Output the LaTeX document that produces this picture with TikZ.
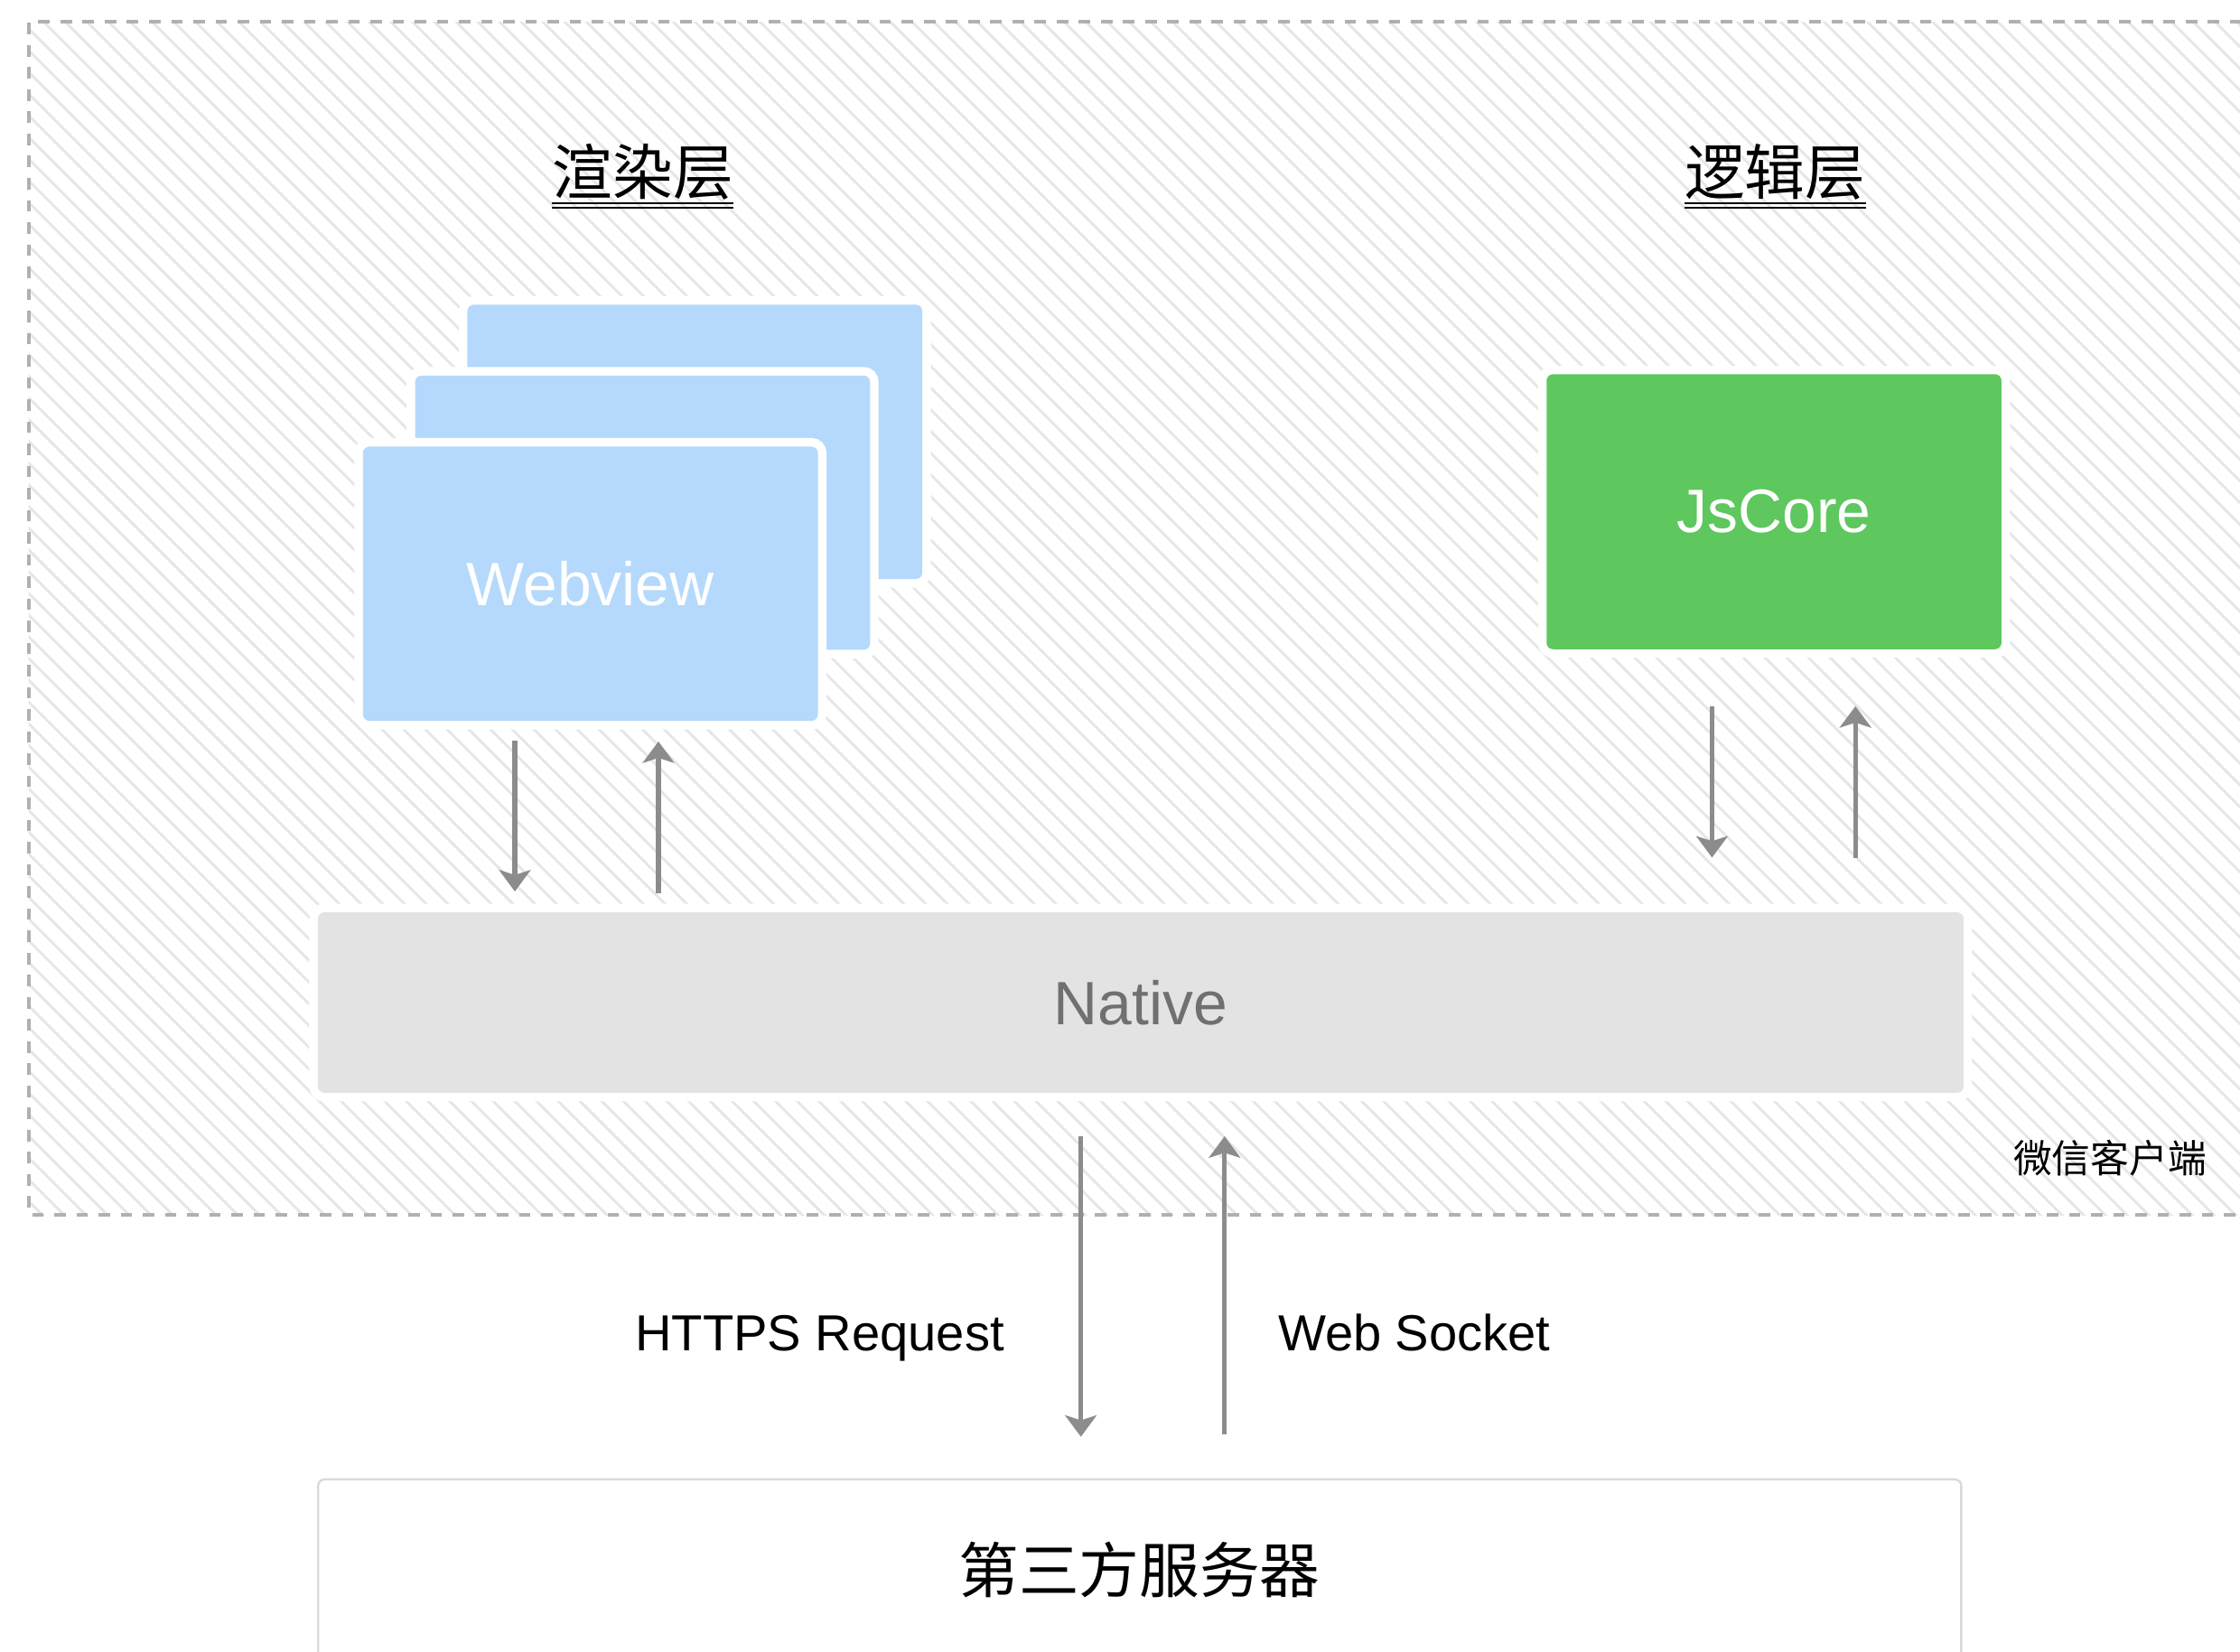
\documentclass[tikz,border=0pt]{standalone}
\usepackage{fontspec}
\setmainfont{Liberation Sans}
\newfontfamily\cjk{Noto Sans CJK SC}
\usetikzlibrary{arrows.meta}
\definecolor{wvblue}{HTML}{B4D9FC}
\definecolor{jsgreen}{HTML}{5EC75E}
\definecolor{natgray}{HTML}{E3E3E3}
\definecolor{nattext}{HTML}{707070}
\definecolor{arrgray}{HTML}{8C8C8C}
\definecolor{dashgray}{HTML}{B0B0B0}
\definecolor{hatchgray}{HTML}{E6E6E6}
\definecolor{srvborder}{HTML}{D9D9D9}
\begin{document}
\begin{tikzpicture}[x=0.02cm,y=-0.02cm,
  box/.style={inner sep=0pt, outer sep=0pt, rounded corners=0.09cm},
  halo/.style={preaction={draw=white, line width=0.24cm}},
  bigtext/.style={font=\fontsize{24.4}{29}\selectfont},
  wv/.style={box, halo, bigtext, fill=wvblue, text=white, minimum width=6.37cm, minimum height=3.84cm},
  js/.style={box, halo, bigtext, fill=jsgreen, text=white, minimum width=6.37cm, minimum height=3.85cm},
  nat/.style={box, halo, bigtext, fill=natgray, text=nattext, minimum width=23.044cm, minimum height=2.528cm},
  srv/.style={box, draw=srvborder, fill=white, line width=0.03cm, minimum width=23.008cm, minimum height=2.79cm},
  arr/.style={draw=arrgray, line width=0.065cm, -{Stealth[length=0.3cm,width=0.44cm,inset=0.07cm]}},
  hatch/.style={draw=hatchgray, line width=0.036cm},
  frame/.style={draw=dashgray, line width=0.05cm, dash pattern=on 0.16cm off 0.15cm},
  title/.style={font=\cjk\fontsize{24}{28}\selectfont, inner sep=0pt},
  uline/.style={draw=black, line width=0.021cm},
  lab/.style={font=\fontsize{20.2}{24}\selectfont, inner sep=0pt},
  small/.style={font=\cjk\fontsize{15.4}{18}\selectfont, inner sep=0pt}
]
\useasboundingbox (0,0) rectangle (1568,1155.8);
\clip (0,0) rectangle (1568,1155.8);
\fill[white] (0,0) rectangle (1568,1155.8);

% hatched client area
\begin{scope}
  \clip (20,15.4) rectangle (1600,850.4);
  \foreach \k in {-60,...,106} {
    \draw[hatch] ({\k*15.2},0) -- ++(900,900);
  }
\end{scope}
\draw[frame] (1600,15.4) -- (20,15.4) -- (20,850.4) -- (1600,850.4);

% titles
\node[title] (t1) at (450,120.5) {渲染层};
\node[title] (t2) at (1242.5,120.5) {逻辑层};
\coordinate (ulA) at (0,142.3);
\coordinate (ulB) at (0,145.3);
\draw[uline] (t1.west |- ulA) -- (t1.east |- ulA);
\draw[uline] (t1.west |- ulB) -- (t1.east |- ulB);
\draw[uline] (t2.west |- ulA) -- (t2.east |- ulA);
\draw[uline] (t2.west |- ulB) -- (t2.east |- ulB);

% webview stack
\node[wv] (wv3) at (486.4,309.3) {};
\node[wv] (wv2) at (449.8,358.9) {};
\node[wv] (wv1) at (413.3,408.6) {Webview};

% JsCore
\node[js] (jscore) at (1241.8,358.2) {JsCore};

% Native
\node[nat] (native) at (798.5,701.8) {Native};

% client label
\node[small] (client) at (1477,810.4) {微信客户端};

% server
\node[srv] (server) at (797.8,1105.3) {};
\node[title] (srvtext) at (797.6,1099) {第三方服务器};

% arrow end points
\coordinate (wdA) at (360.4,518.5);
\coordinate (wdB) at (360.4,624);
\coordinate (wuA) at (460.9,625);
\coordinate (wuB) at (460.9,519);
\coordinate (jdA) at (1198.4,494.3);
\coordinate (jdB) at (1198.4,600.3);
\coordinate (juA) at (1298.8,600.6);
\coordinate (juB) at (1298.8,494.3);
\coordinate (sdA) at (756.6,795.4);
\coordinate (sdB) at (756.6,1005.7);
\coordinate (suA) at (857.2,1004);
\coordinate (suB) at (857.2,795.4);

\draw[arr] (wdA) -- (wdB);
\draw[arr] (wuA) -- (wuB);
\draw[arr] (jdA) -- (jdB);
\draw[arr] (juA) -- (juB);
\draw[arr] (sdA) -- (sdB);
\draw[arr] (suA) -- (suB);

% protocol labels
\node[lab, anchor=base] (https) at (573.8,945.3) {HTTPS Request};
\node[lab, anchor=base] (ws) at (990,945.3) {Web Socket};
\end{tikzpicture}
\end{document}
